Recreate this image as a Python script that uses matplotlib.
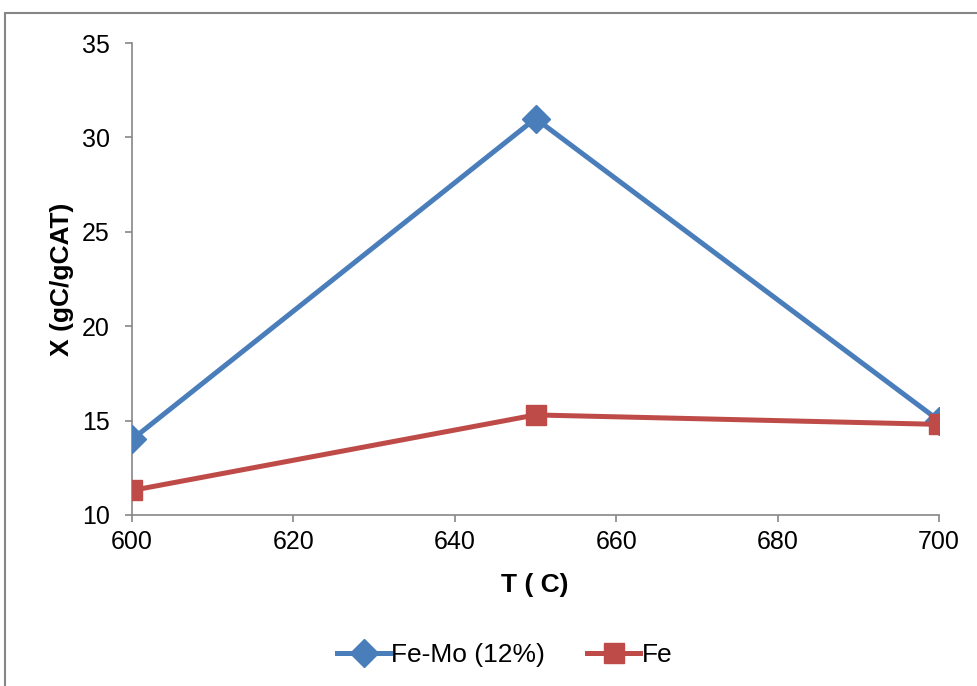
import matplotlib
matplotlib.use("Agg")
import matplotlib.pyplot as plt
from matplotlib.patches import Rectangle

plt.rcParams['font.family'] = ['Liberation Sans', 'DejaVu Sans']

temps = [600, 650, 700]
femo = [14.0, 31.0, 15.0]
fe = [11.3, 15.3, 14.8]
xticks = [600, 620, 640, 660, 680, 700]
yticks = [10, 15, 20, 25, 30, 35]

fig = plt.figure(figsize=(9.78, 6.86), dpi=100)
ax = fig.add_axes([132/978, 1-515/686, (939-132)/978, (515-43)/686])

blue = '#4a7ebb'
red = '#be4b48'
ax.plot(temps, femo, color=blue, lw=3.6, marker='D', ms=14, label='Fe-Mo (12%)', zorder=3)
ax.plot(temps, fe, color=red, lw=3.6, marker='s', ms=14.5, label='Fe', zorder=3)

ax.set_xlim(600, 700)
ax.set_ylim(10, 35)
ax.set_xticks(xticks)
ax.set_yticks(yticks)
for s in ['top', 'right']:
    ax.spines[s].set_visible(False)
for s in ['left', 'bottom']:
    ax.spines[s].set_color('#868686')
    ax.spines[s].set_linewidth(1.2)
ax.tick_params(direction='out', length=5, width=1.2, color='#868686', labelsize=18)
ax.tick_params(axis='y', pad=11)
ax.tick_params(axis='x', pad=6)
for lab in ax.get_xticklabels() + ax.get_yticklabels():
    lab.set_clip_on(False)

ax.set_xlabel('T ( C)', fontsize=19, fontweight='bold')
ax.set_ylabel('X (gC/gCAT)', fontsize=19, fontweight='bold')
ax.xaxis.set_label_coords((535-132)/807, (515-585)/472)
ax.yaxis.set_label_coords((62-132)/807, 0.5)
ax.xaxis.label.set_va('center')
ax.yaxis.label.set_va('center')

fig.legend(loc='center', bbox_to_anchor=(0.516, 1-655/686), ncol=2, frameon=False,
           fontsize=19, handlelength=2.0, columnspacing=1.6, handletextpad=0.05)

fig.patches.append(Rectangle((5/978, -0.1), 1.2, 1-13/686 + 0.1, transform=fig.transFigure,
                             fill=False, edgecolor='#868686', lw=1.5))

fig.savefig('out.png', dpi=100)
